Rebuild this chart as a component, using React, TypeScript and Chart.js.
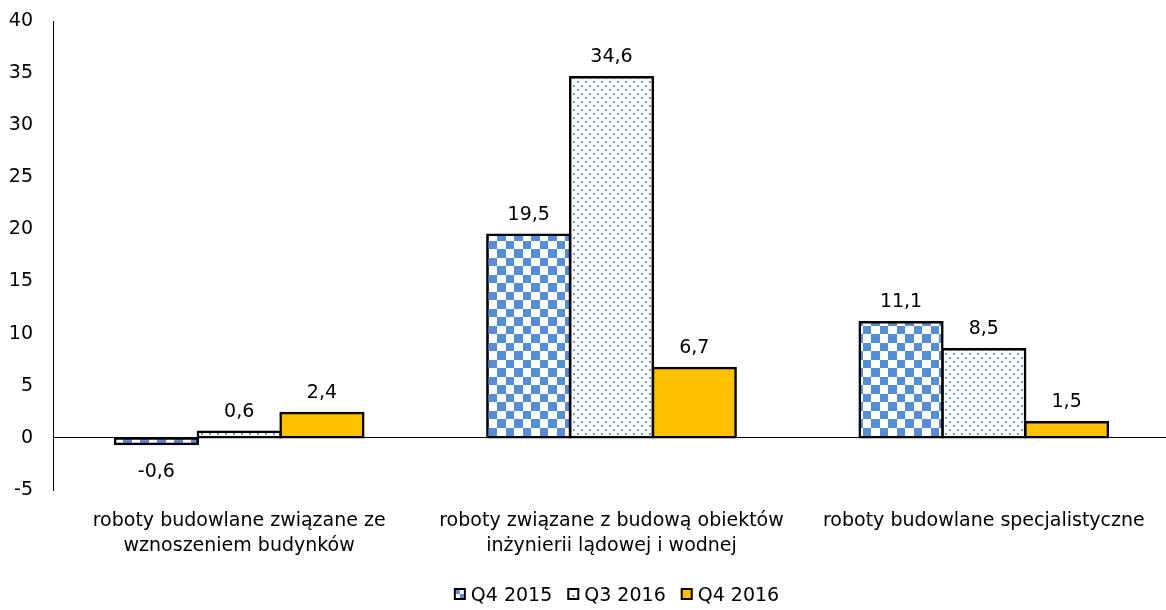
import React, { useEffect, useRef } from "react";
import { Chart, registerables } from "chart.js";

Chart.register(...registerables);

const categories: (string | string[])[] = [
  ["roboty budowlane związane ze", "wznoszeniem budynków"],
  ["roboty związane z budową obiektów", "inżynierii lądowej i wodnej"],
  "roboty budowlane specjalistyczne",
];

const seriesNames = ["Q4 2015", "Q3 2016", "Q4 2016"];
const q4_2015 = [-0.6, 19.5, 11.1];
const q3_2016 = [0.6, 34.6, 8.5];
const q4_2016 = [2.4, 6.7, 1.5];

const yMin = -5;
const yMax = 40;
const yStep = 5;

const FONT = "'DejaVu Sans', Verdana, sans-serif";
const BLUE = "#558ED5";
const GOLD = "#FFC000";

const CANVAS_W = 1233;
const CANVAS_H = 610;

function checkerPattern(ctx: CanvasRenderingContext2D): CanvasPattern | string {
  const t = document.createElement("canvas");
  t.width = 17;
  t.height = 17;
  const c = t.getContext("2d")!;
  c.fillStyle = "#ffffff";
  c.fillRect(0, 0, 17, 17);
  c.fillStyle = BLUE;
  c.fillRect(0, 0, 9, 9);
  c.fillRect(9, 9, 8, 8);
  const p = ctx.createPattern(t, "repeat");
  if (!p) return BLUE;
  try {
    p.setTransform(new DOMMatrix().translate(4, 11));
  } catch (e) {
    /* ignore */
  }
  return p;
}

function dotPattern(ctx: CanvasRenderingContext2D): CanvasPattern | string {
  const t = document.createElement("canvas");
  t.width = 8;
  t.height = 8;
  const c = t.getContext("2d")!;
  c.fillStyle = "#ffffff";
  c.fillRect(0, 0, 8, 8);
  c.fillStyle = "rgba(85,142,213,0.85)";
  c.fillRect(1, 1, 2, 2);
  c.fillRect(5, 5, 2, 2);
  const p = ctx.createPattern(t, "repeat");
  return p || "#ffffff";
}

const fmt = (v: number) => v.toFixed(1).replace(".", ",");

// value labels above positive bars, below negative ones
const valueLabels = {
  id: "valueLabels",
  afterDatasetsDraw(chart: any) {
    const ctx = chart.ctx as CanvasRenderingContext2D;
    ctx.save();
    ctx.font = `19px ${FONT}`;
    ctx.fillStyle = "#000";
    ctx.textAlign = "center";
    ctx.textBaseline = "alphabetic";
    chart.data.datasets.forEach((ds: any, di: number) => {
      const meta = chart.getDatasetMeta(di);
      meta.data.forEach((el: any, i: number) => {
        const v = ds.data[i] as number;
        const y = v >= 0 ? el.y - 15 : el.y + 33;
        ctx.fillText(fmt(v), el.x, y);
      });
    });
    ctx.restore();
  },
};

// legend row under the chart, swatches drawn with the series fills
const bottomLegend = {
  id: "bottomLegend",
  afterDraw(chart: any) {
    const ctx = chart.ctx as CanvasRenderingContext2D;
    ctx.save();
    ctx.font = `19px ${FONT}`;
    ctx.textBaseline = "alphabetic";
    ctx.textAlign = "left";
    const box = 12;
    const gapText = 5;
    const gapItem = 15;
    const names = chart.data.datasets.map((d: any) => d.label as string);
    const widths = names.map((n: string) => ctx.measureText(n).width);
    const total =
      widths.reduce((a: number, b: number) => a + b, 0) +
      names.length * (box + gapText) +
      (names.length - 1) * gapItem;
    let x = chart.width / 2 - total / 2;
    const boxTop = 588;
    const baseline = 601;
    names.forEach((n: string, i: number) => {
      ctx.fillStyle = "#ffffff";
      ctx.fillRect(x, boxTop, box, box);
      if (i === 0) {
        ctx.fillStyle = BLUE;
        ctx.fillRect(x + 2, boxTop + 2, 4, 4);
        ctx.fillRect(x + 6, boxTop + 6, 4, 4);
      } else if (i === 1) {
        ctx.fillStyle = BLUE;
        ctx.fillRect(x + 5, boxTop + 7, 2, 2);
      } else {
        ctx.fillStyle = GOLD;
        ctx.fillRect(x, boxTop, box, box);
      }
      ctx.strokeStyle = "#000";
      ctx.lineWidth = 2;
      ctx.strokeRect(x + 1, boxTop + 1, box - 2, box - 2);
      ctx.fillStyle = "#000";
      ctx.fillText(n, x + box + gapText, baseline);
      x += box + gapText + widths[i] + gapItem;
    });
    ctx.restore();
  },
};

export default function App() {
  const canvasRef = useRef<HTMLCanvasElement | null>(null);

  useEffect(() => {
    const canvas = canvasRef.current;
    if (!canvas) return;
    const ctx = canvas.getContext("2d")!;
    const checker = checkerPattern(ctx);
    const dots = dotPattern(ctx);

    // outline sits across the bar edge, so even thin bars keep their fill
    const barStyle = {
      borderColor: "#000",
      borderWidth: 2.5,
      borderSkipped: false as const,
      inflateAmount: 1.2,
    };

    const chart = new Chart(ctx, {
      type: "bar",
      data: {
        labels: categories,
        datasets: [
          { label: seriesNames[0], data: q4_2015, backgroundColor: checker as any, ...barStyle },
          { label: seriesNames[1], data: q3_2016, backgroundColor: dots as any, ...barStyle },
          { label: seriesNames[2], data: q4_2016, backgroundColor: GOLD, ...barStyle },
        ],
      },
      options: {
        responsive: false,
        animation: false,
        devicePixelRatio: 1,
        layout: { padding: { top: 21, right: CANVAS_W - 1170, left: 0, bottom: 0 } },
        datasets: {
          bar: { categoryPercentage: 0.667, barPercentage: 1 },
        },
        plugins: {
          legend: { display: false },
          tooltip: { enabled: false },
        },
        scales: {
          x: {
            grid: { display: false, drawTicks: false },
            border: { display: false },
            ticks: {
              color: "#000",
              font: { family: FONT, size: 19, lineHeight: 1.3 },
              padding: 19,
              maxRotation: 0,
              autoSkip: false,
            },
            afterFit: (s: any) => {
              s.height = 120;
              s.paddingLeft = 0;
              s.paddingRight = 0;
            },
          },
          y: {
            min: yMin,
            max: yMax,
            ticks: {
              stepSize: yStep,
              color: "#000",
              font: { family: FONT, size: 19 },
              padding: 20,
            },
            grid: {
              drawTicks: false,
              color: (c: any) => (c.tick && c.tick.value === 0 ? "#000" : "rgba(0,0,0,0)"),
              lineWidth: 1,
            },
            border: { display: true, color: "#000", width: 1 },
            afterFit: (s: any) => {
              s.width = 53;
              s.paddingTop = 0;
              s.paddingBottom = 0;
            },
          },
        },
      },
      plugins: [valueLabels, bottomLegend],
    });

    return () => chart.destroy();
  }, []);

  return (
    <div
      style={{
        position: "fixed",
        left: 0,
        top: 0,
        width: 1166,
        height: 610,
        overflow: "hidden",
        background: "#fff",
      }}
    >
      <canvas ref={canvasRef} width={CANVAS_W} height={CANVAS_H} />
    </div>
  );
}
